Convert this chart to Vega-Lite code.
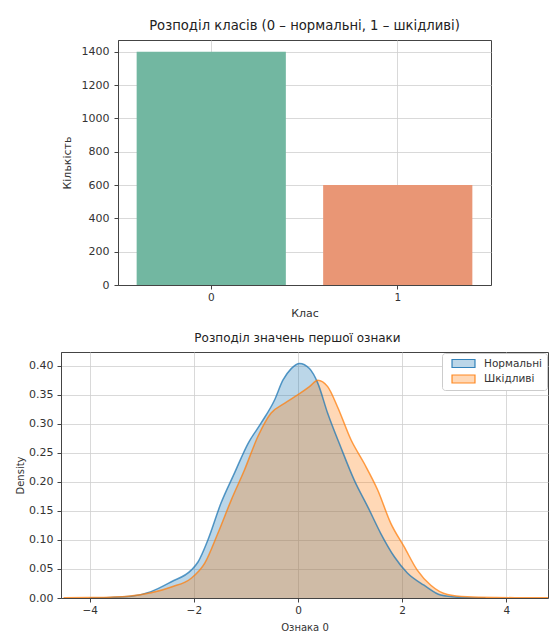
{
  "$schema": "https://vega.github.io/schema/vega-lite/v6.json",
  "padding": {"left": 15, "top": 18, "right": 0, "bottom": 0},
  "background": "white",
  "center": true,
  "bounds": "flush",
  "spacing": 67,
  "resolve": {"scale": {"color": "independent"}},
  "config": {
    "font": "DejaVu Sans",
    "view": {"stroke": "#444", "strokeWidth": 1},
    "axis": {"domainColor": "#444", "tickColor": "#444", "tickSize": 4, "labelFontSize": 10.5, "labelColor": "#333", "titleFontSize": 10, "titleFontWeight": "normal", "titleColor": "#333", "gridColor": "#cfcfcf", "gridWidth": 0.8, "labelPadding": 3, "titlePadding": 4},
    "title": {"fontSize": 12, "fontWeight": "normal", "color": "#222", "offset": 7, "frame": "group"},
    "legend": {"labelFontSize": 10.5, "labelColor": "#333"}
  },
  "vconcat": [
    {
      "title": {"text": "Розподіл класів (0 – нормальні, 1 – шкідливі)", "fontSize": 13.2},
      "width": 373,
      "height": 245,
      "data": {"values": [{"class": "0", "count": 1400}, {"class": "1", "count": 600}]},
      "mark": {"type": "bar"},
      "encoding": {
        "x": {"field": "class", "type": "nominal", "title": "Клас", "scale": {"paddingInner": 0.2, "paddingOuter": 0.1}, "axis": {"labelAngle": 0, "grid": true, "bandPosition": 0.5, "titleFontSize": 11, "titlePadding": 5}},
        "y": {"field": "count", "type": "quantitative", "title": "Кількість", "scale": {"domain": [0, 1470], "nice": false}, "axis": {"values": [0, 200, 400, 600, 800, 1000, 1200, 1400], "format": "d", "grid": true, "titleFontSize": 11, "labelFontSize": 11, "labelPadding": 5, "titlePadding": 9}},
        "color": {"field": "class", "type": "nominal", "scale": {"domain": ["0", "1"], "range": ["#72b7a1", "#e99675"]}, "legend": null}
      }
    },
    {
      "title": {"text": "Розподіл значень першої ознаки", "dx": -7},
      "width": 487,
      "height": 246,
      "data": {"values": [
        {"class": "Нормальні", "x": -4.0, "density": 0.0},
        {"class": "Нормальні", "x": -3.6, "density": 0.001},
        {"class": "Нормальні", "x": -3.2, "density": 0.003},
        {"class": "Нормальні", "x": -2.82, "density": 0.011},
        {"class": "Нормальні", "x": -2.43, "density": 0.028},
        {"class": "Нормальні", "x": -2.05, "density": 0.048},
        {"class": "Нормальні", "x": -1.92, "density": 0.062},
        {"class": "Нормальні", "x": -1.73, "density": 0.1},
        {"class": "Нормальні", "x": -1.48, "density": 0.163},
        {"class": "Нормальні", "x": -1.22, "density": 0.215},
        {"class": "Нормальні", "x": -0.96, "density": 0.266},
        {"class": "Нормальні", "x": -0.71, "density": 0.301},
        {"class": "Нормальні", "x": -0.45, "density": 0.341},
        {"class": "Нормальні", "x": -0.29, "density": 0.375},
        {"class": "Нормальні", "x": -0.13, "density": 0.395},
        {"class": "Нормальні", "x": 0.03, "density": 0.404},
        {"class": "Нормальні", "x": 0.22, "density": 0.395},
        {"class": "Нормальні", "x": 0.38, "density": 0.37},
        {"class": "Нормальні", "x": 0.57, "density": 0.318},
        {"class": "Нормальні", "x": 0.82, "density": 0.26},
        {"class": "Нормальні", "x": 1.08, "density": 0.203},
        {"class": "Нормальні", "x": 1.34, "density": 0.157},
        {"class": "Нормальні", "x": 1.59, "density": 0.111},
        {"class": "Нормальні", "x": 1.85, "density": 0.071},
        {"class": "Нормальні", "x": 2.1, "density": 0.043},
        {"class": "Нормальні", "x": 2.42, "density": 0.022},
        {"class": "Нормальні", "x": 2.74, "density": 0.005},
        {"class": "Нормальні", "x": 3.12, "density": 0.001},
        {"class": "Нормальні", "x": 3.6, "density": 0.0},
        {"class": "Шкідливі", "x": -4.5, "density": 0.0003},
        {"class": "Шкідливі", "x": -4.0, "density": 0.0008},
        {"class": "Шкідливі", "x": -3.6, "density": 0.0015},
        {"class": "Шкідливі", "x": -3.26, "density": 0.003},
        {"class": "Шкідливі", "x": -2.82, "density": 0.009},
        {"class": "Шкідливі", "x": -2.43, "density": 0.019},
        {"class": "Шкідливі", "x": -2.05, "density": 0.034},
        {"class": "Шкідливі", "x": -1.79, "density": 0.06},
        {"class": "Шкідливі", "x": -1.54, "density": 0.111},
        {"class": "Шкідливі", "x": -1.28, "density": 0.169},
        {"class": "Шкідливі", "x": -1.03, "density": 0.22},
        {"class": "Шкідливі", "x": -0.77, "density": 0.278},
        {"class": "Шкідливі", "x": -0.52, "density": 0.318},
        {"class": "Шкідливі", "x": -0.26, "density": 0.335},
        {"class": "Шкідливі", "x": 0.0, "density": 0.35},
        {"class": "Шкідливі", "x": 0.22, "density": 0.364},
        {"class": "Шкідливі", "x": 0.38, "density": 0.375},
        {"class": "Шкідливі", "x": 0.57, "density": 0.364},
        {"class": "Шкідливі", "x": 0.76, "density": 0.329},
        {"class": "Шкідливі", "x": 1.02, "density": 0.272},
        {"class": "Шкідливі", "x": 1.27, "density": 0.232},
        {"class": "Шкідливі", "x": 1.53, "density": 0.186},
        {"class": "Шкідливі", "x": 1.78, "density": 0.129},
        {"class": "Шкідливі", "x": 2.04, "density": 0.088},
        {"class": "Шкідливі", "x": 2.29, "density": 0.048},
        {"class": "Шкідливі", "x": 2.55, "density": 0.022},
        {"class": "Шкідливі", "x": 2.87, "density": 0.006},
        {"class": "Шкідливі", "x": 3.25, "density": 0.002},
        {"class": "Шкідливі", "x": 3.8, "density": 0.0008},
        {"class": "Шкідливі", "x": 4.3, "density": 0.0005},
        {"class": "Шкідливі", "x": 4.8, "density": 0.0003}
      ]},
      "mark": {"type": "area", "fillOpacity": 0.3, "interpolate": "monotone", "clip": true, "line": {"strokeWidth": 1.5, "strokeOpacity": 0.75}},
      "encoding": {
        "x": {"field": "x", "type": "quantitative", "title": "Ознака 0", "scale": {"domain": [-4.55, 4.8], "nice": false, "zero": false}, "axis": {"values": [-4, -2, 0, 2, 4], "grid": true, "titlePadding": 7}},
        "y": {"field": "density", "type": "quantitative", "stack": null, "title": "Density", "scale": {"domain": [0, 0.4236], "nice": false}, "axis": {"values": [0, 0.05, 0.1, 0.15, 0.2, 0.25, 0.3, 0.35, 0.4], "format": ".2f", "grid": true, "labelFontSize": 11, "labelPadding": 4, "titlePadding": 3}},
        "color": {"field": "class", "type": "nominal", "scale": {"domain": ["Нормальні", "Шкідливі"], "range": ["#1f77b4", "#ff7f0e"]},
          "legend": {"title": null, "orient": "top-right", "offset": 1, "fillColor": "white", "strokeColor": "#ccc", "cornerRadius": 3, "padding": 4, "rowPadding": 2.5,
            "symbolType": "M-2,-0.7H2V0.7H-2Z", "symbolSize": 132, "symbolOffset": 11, "labelOffset": 14,
            "encode": {"symbols": {"update": {"fillOpacity": {"value": 0.3}, "strokeOpacity": {"value": 0.9}, "strokeWidth": {"value": 1.2}, "stroke": {"scale": "color", "field": "value"}}}}}}
      }
    }
  ]
}
